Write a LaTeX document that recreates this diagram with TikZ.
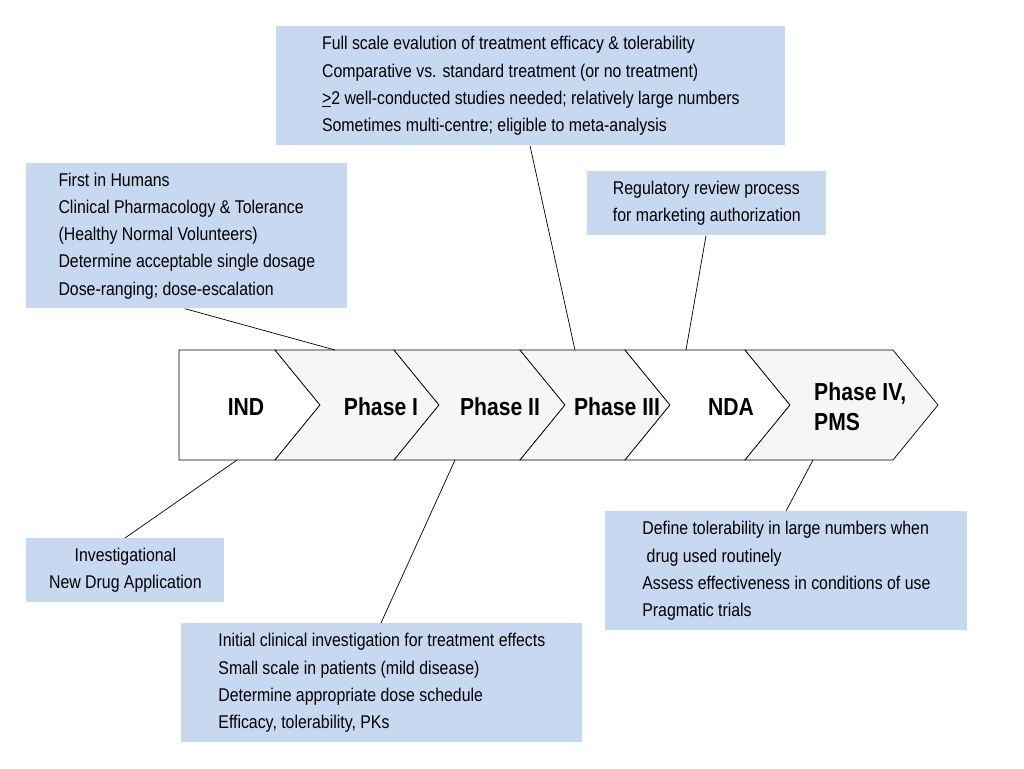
\documentclass[tikz,border=0pt]{standalone}
\usepackage{fontspec}
\setmainfont{Liberation Sans}[FakeStretch=0.86]
\usetikzlibrary{positioning}
\definecolor{boxblue}{RGB}{198,217,240}
\definecolor{chevgray}{RGB}{246,246,244}
\tikzset{
	info/.style={fill=boxblue, anchor=north west, align=left, font=\fontsize{10.5}{15.5}\selectfont, inner sep=5pt},
	stage/.style={font=\fontsize{14}{17}\selectfont\bfseries},
	lead/.style={draw=black, thin}
}
\newcommand{\chev}[3]{\draw[fill=#3, thin] (#1,350) -- (#2,350) -- (#2+45,405) -- (#2,460) -- (#1,460) -- (#1+45,405) -- cycle;}

\begin{document}
\begin{tikzpicture}[x=0.02cm, y=-0.02cm]
	\useasboundingbox (0,0) rectangle (1024,768);

	% stages
	\draw[fill=white, thin] (179,350) -- (275,350) -- (320,405) -- (275,460) -- (179,460) -- cycle;
	\chev{275}{394}{chevgray}
	\chev{394}{520}{chevgray}
	\chev{520}{625}{chevgray}
	\chev{625}{745}{white}
	\chev{745}{893}{chevgray}

	\node[stage] (ind) at (246,407) {IND};
	\node[stage] (ph1) at (381,407) {Phase I};
	\node[stage] (ph2) at (500,407) {Phase II};
	\node[stage] (ph3) at (617,407) {Phase III};
	\node[stage] (nda) at (731,407) {NDA};
	\node[stage, align=left, anchor=west] (ph4) at (808,407) {Phase IV,\\ PMS};

	% descriptions
	\node[info, minimum width=509*0.02cm, minimum height=119*0.02cm] (full) at (276,26)
		{Full scale evalution of treatment efficacy \& tolerability\\Comparative vs. standard treatment (or no treatment)\\\underline{>}2 well-conducted studies needed; relatively large numbers\\Sometimes multi-centre; eligible to meta-analysis};
	\node[info, minimum width=321*0.02cm, minimum height=145*0.02cm] (first) at (26,163)
		{First in Humans\\Clinical Pharmacology \& Tolerance\\(Healthy Normal Volunteers)\\Determine acceptable single dosage\\Dose-ranging; dose-escalation};
	\node[info, minimum width=239*0.02cm, minimum height=64*0.02cm] (review) at (587,171)
		{Regulatory review process\\for marketing authorization};
	\node[info, align=center, minimum width=198*0.02cm, minimum height=64*0.02cm] (invest) at (26,538)
		{Investigational\\New Drug Application};
	\node[info, minimum width=401*0.02cm, minimum height=119*0.02cm] (initial) at (181,623)
		{Initial clinical investigation for treatment effects\\Small scale in patients (mild disease)\\Determine appropriate dose schedule\\Efficacy, tolerability, PKs};
	\node[info, minimum width=362*0.02cm, minimum height=119*0.02cm] (define) at (605,511)
		{Define tolerability in large numbers when\\\ drug used routinely\\Assess effectiveness in conditions of use\\Pragmatic trials};

	% leaders
	\coordinate (p3) at (575,350);
	\coordinate (p1) at (335,350);
	\coordinate (pn) at (686,350);
	\coordinate (pi) at (237,460);
	\coordinate (p2) at (455,460);
	\coordinate (p4) at (813,460);
	\draw[lead] (full.south -| 530,0) -- (p3);
	\draw[lead] (first.south -| 185,0) -- (p1);
	\draw[lead] (review.south -| 706,0) -- (pn);
	\draw[lead] (invest.north -| 125,0) -- (pi);
	\draw[lead] (initial.north -| 381,0) -- (p2);
	\draw[lead] (define.north -| 786,0) -- (p4);
\end{tikzpicture}
\end{document}
